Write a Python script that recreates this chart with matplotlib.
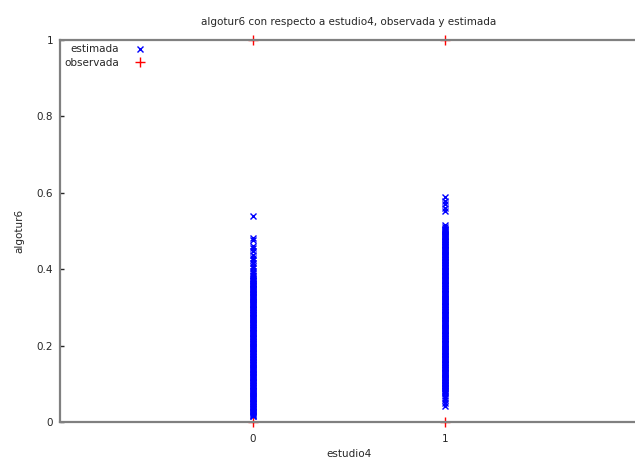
import matplotlib
matplotlib.use("Agg")
import matplotlib.pyplot as plt

title = "algotur6 con respecto a estudio4, observada y estimada"
x_label = "estudio4"
y_label = "algotur6"
x_ticks = [0, 1]
y_ticks = [0, 0.2, 0.4, 0.6, 0.8, 1]
y_tick_labels = ["0", "0.2", "0.4", "0.6", "0.8", "1"]

# estimated values, estudio4 = 0
est_0 = [0.539, 0.481, 0.476, 0.462, 0.455, 0.447, 0.438, 0.430, 0.423, 0.416,
         0.409, 0.402, 0.396, 0.391, 0.386, 0.381,
         0.377, 0.375, 0.372, 0.370, 0.368, 0.365, 0.363, 0.361, 0.358, 0.356,
         0.354, 0.351, 0.349, 0.347, 0.345, 0.342, 0.340, 0.338, 0.335, 0.333,
         0.331, 0.328, 0.326, 0.324, 0.322, 0.319, 0.317, 0.315, 0.312, 0.310,
         0.308, 0.305, 0.303, 0.301, 0.299, 0.296, 0.294, 0.292, 0.289, 0.287,
         0.285, 0.282, 0.280, 0.278, 0.276, 0.273, 0.271, 0.269, 0.266, 0.264,
         0.262, 0.259, 0.257, 0.255, 0.253, 0.250, 0.248, 0.246, 0.243, 0.241,
         0.239, 0.236, 0.234, 0.232, 0.230, 0.227, 0.225, 0.223, 0.220, 0.218,
         0.216, 0.213, 0.211, 0.209, 0.207, 0.204, 0.202, 0.200, 0.197, 0.195,
         0.193, 0.190, 0.188, 0.186, 0.184, 0.181, 0.179, 0.177, 0.174, 0.172,
         0.170, 0.167, 0.165, 0.163, 0.161, 0.158, 0.156, 0.154, 0.151, 0.149,
         0.147, 0.144, 0.142, 0.140, 0.138, 0.135, 0.133, 0.131, 0.128, 0.126,
         0.124, 0.121, 0.119, 0.117, 0.115, 0.112, 0.110, 0.108, 0.105, 0.103,
         0.101, 0.098, 0.096, 0.094, 0.092, 0.089, 0.087, 0.085, 0.082, 0.080,
         0.078, 0.075, 0.073, 0.071, 0.069, 0.066, 0.064, 0.062, 0.059, 0.057,
         0.055, 0.052, 0.050, 0.048, 0.046, 0.043, 0.041, 0.039, 0.036, 0.034,
         0.032, 0.029, 0.027, 0.025, 0.023, 0.021, 0.019, 0.017, 0.016]

# estimated values, estudio4 = 1
est_1 = [0.588, 0.579, 0.570, 0.561, 0.552, 0.517, 0.511, 0.506, 0.504, 0.502,
         0.499, 0.497, 0.495, 0.493, 0.490, 0.488, 0.486, 0.484, 0.481, 0.479,
         0.477, 0.474, 0.472, 0.470, 0.467, 0.465, 0.463, 0.461, 0.458, 0.456,
         0.454, 0.451, 0.449, 0.447, 0.444, 0.442, 0.440, 0.438, 0.435, 0.433,
         0.431, 0.428, 0.426, 0.424, 0.421, 0.419, 0.417, 0.415, 0.412, 0.410,
         0.408, 0.405, 0.403, 0.401, 0.398, 0.396, 0.394, 0.392, 0.389, 0.387,
         0.385, 0.382, 0.380, 0.378, 0.375, 0.373, 0.371, 0.369, 0.366, 0.364,
         0.362, 0.359, 0.357, 0.355, 0.352, 0.350, 0.348, 0.346, 0.343, 0.341,
         0.339, 0.336, 0.334, 0.332, 0.329, 0.327, 0.325, 0.323, 0.320, 0.318,
         0.316, 0.313, 0.311, 0.309, 0.306, 0.304, 0.302, 0.300, 0.297, 0.295,
         0.293, 0.290, 0.288, 0.286, 0.283, 0.281, 0.279, 0.277, 0.274, 0.272,
         0.270, 0.267, 0.265, 0.263, 0.260, 0.258, 0.256, 0.254, 0.251, 0.249,
         0.247, 0.244, 0.242, 0.240, 0.237, 0.235, 0.233, 0.231, 0.228, 0.226,
         0.224, 0.221, 0.219, 0.217, 0.214, 0.212, 0.210, 0.208, 0.205, 0.203,
         0.201, 0.198, 0.196, 0.194, 0.191, 0.189, 0.187, 0.185, 0.182, 0.180,
         0.178, 0.175, 0.173, 0.171, 0.168, 0.166, 0.164, 0.162, 0.159, 0.157,
         0.155, 0.152, 0.150, 0.148, 0.145, 0.143, 0.141, 0.139, 0.136, 0.134,
         0.132, 0.129, 0.127, 0.125, 0.122, 0.120, 0.118, 0.116, 0.113, 0.111,
         0.109, 0.106, 0.104, 0.102, 0.099, 0.097, 0.095, 0.093, 0.090, 0.088,
         0.086, 0.083, 0.081, 0.079, 0.075, 0.068, 0.062, 0.057, 0.050, 0.043]

# observed values
obs_x = [0, 0, 1, 1]
obs_y = [0, 1, 0, 1]

plt.rcParams['font.family'] = ['DejaVu Sans']
fig = plt.figure(figsize=(6.35, 4.58), dpi=100)
ax = fig.add_axes([60/635, 36/458, 578/635, 382/458])

text_c = "#262626"
axis_c = "#808080"

ax.plot([0]*len(est_0) + [1]*len(est_1), est_0 + est_1, linestyle='none',
        marker='x', color='#0000ff', markersize=5, markeredgewidth=1.0,
        label='estimada', zorder=2)
ax.plot(obs_x, obs_y, linestyle='none', marker='+', color='#ff0000',
        markersize=6.5, markeredgewidth=1.0, label='observada', clip_on=False, zorder=1)

ax.set_xlim(-1, 2)
ax.set_ylim(0, 1)
ax.set_xticks(x_ticks)
ax.set_xticklabels([str(v) for v in x_ticks])
ax.set_yticks(y_ticks)
ax.set_yticklabels(y_tick_labels)
ax.tick_params(axis='x', length=0, pad=9, labelsize=7.5, labelcolor=text_c)
ax.tick_params(axis='y', direction='in', length=3, width=1, color=text_c,
               pad=5, labelsize=7.5, labelcolor=text_c)
for s in ['left', 'bottom', 'top']:
    ax.spines[s].set_color(axis_c)
    ax.spines[s].set_linewidth(1.6)
    ax.spines[s].set_zorder(3)
ax.spines['right'].set_visible(False)

ax.set_title(title, fontsize=7.5, color=text_c, pad=11)
ax.set_xlabel(x_label, fontsize=7.5, color=text_c, labelpad=3)
ax.set_ylabel(y_label, fontsize=7.5, color=text_c, labelpad=9)

leg = ax.legend(loc='upper left', markerfirst=False, frameon=False,
                fontsize=7.5, handlelength=1.0, handletextpad=1.5,
                borderaxespad=0.0, labelspacing=0.35, bbox_to_anchor=(0.0, 1.0))
for t in leg.get_texts():
    t.set_color(text_c)

fig.savefig("out.png", dpi=100)
